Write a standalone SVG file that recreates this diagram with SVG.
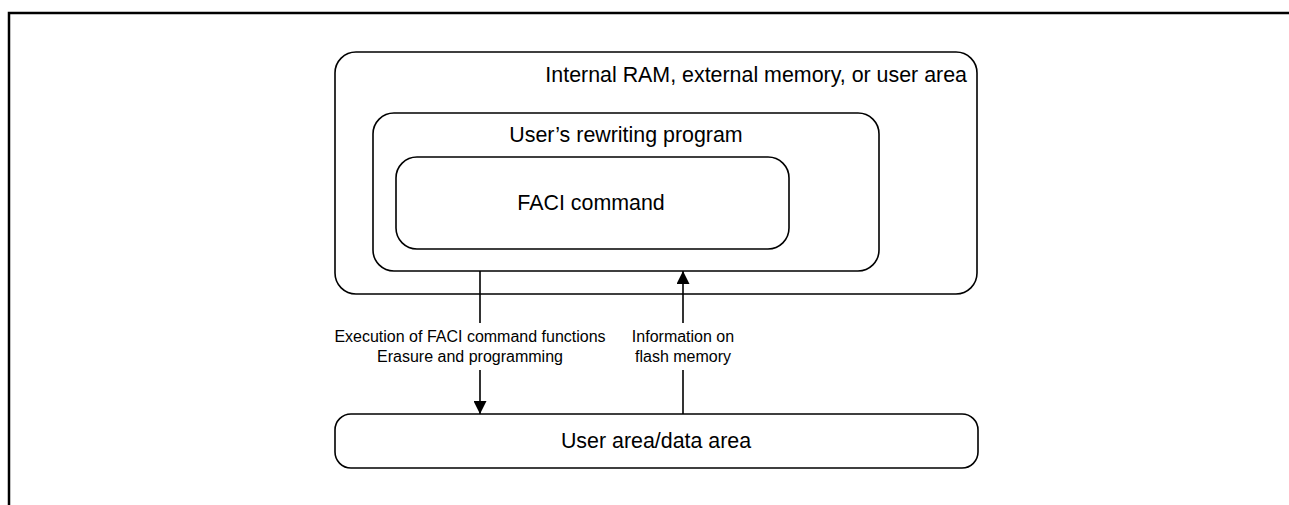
<svg xmlns="http://www.w3.org/2000/svg" width="1289" height="505" viewBox="0 0 1289 505">
  <defs>
    <style>
      .box { fill: #ffffff; stroke: #000000; stroke-width: 1.6; }
      .big { font-family: "Liberation Sans", Arial, sans-serif; font-size: 21.4px; fill: #000000; }
      .small { font-family: "Liberation Sans", Arial, sans-serif; font-size: 16px; fill: #000000; text-anchor: middle; }
      .conn { stroke: #000000; stroke-width: 1.6; fill: none; }
    </style>
    <marker id="arrow" viewBox="0 0 12 13" refX="13" refY="6.5" markerWidth="13" markerHeight="13" markerUnits="userSpaceOnUse" orient="auto">
      <path d="M0,0 L13,6.5 L0,13 Z" fill="#000000"/>
    </marker>
  </defs>
  <rect width="1289" height="505" fill="#ffffff"/>
  <path d="M9,505 V13 H1289" fill="none" stroke="#000000" stroke-width="2.5"/>

  <g id="outer-area">
    <rect class="box" x="335" y="52" width="642" height="242" rx="21" ry="21"/>
    <text class="big" x="967" y="82" text-anchor="end">Internal RAM, external memory, or user area</text>
  </g>
  <g id="rewriting-program">
    <rect class="box" x="373" y="113" width="506" height="158" rx="21" ry="21"/>
    <text class="big" x="626" y="142" text-anchor="middle">User’s rewriting program</text>
  </g>
  <g id="faci-command">
    <rect class="box" x="396" y="157" width="393" height="92" rx="21" ry="21"/>
    <text class="big" x="591" y="210" text-anchor="middle">FACI command</text>
  </g>
  <g id="user-data-area">
    <rect class="box" x="335" y="414" width="643" height="54" rx="16" ry="16"/>
    <text class="big" x="656" y="448" text-anchor="middle">User area/data area</text>
  </g>

  <g id="connectors">
    <line class="conn" x1="480" y1="271" x2="480" y2="323"/>
    <line class="conn" x1="480" y1="370" x2="480" y2="414" marker-end="url(#arrow)"/>
    <line class="conn" x1="683" y1="414" x2="683" y2="370"/>
    <line class="conn" x1="683" y1="323" x2="683" y2="271" marker-end="url(#arrow)"/>
    <text class="small" x="470" y="342">Execution of FACI command functions</text>
    <text class="small" x="470" y="362">Erasure and programming</text>
    <text class="small" x="683" y="342">Information on</text>
    <text class="small" x="683" y="362">flash memory</text>
  </g>
</svg>
